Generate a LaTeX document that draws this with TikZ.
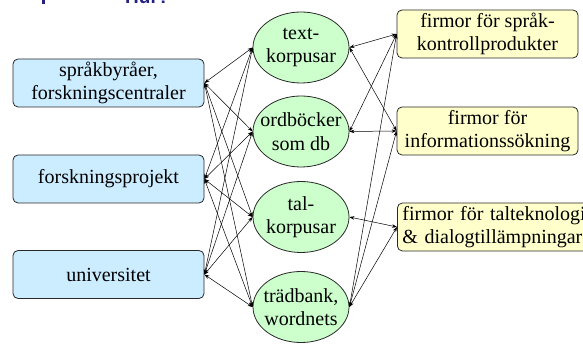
\documentclass[tikz,border=0pt]{standalone}
\usepackage{fontspec}
\setmainfont{LiberationSerif}[Extension=.ttf, UprightFont=*-Regular, BoldFont=*-Bold]
\newfontfamily\serifbody{LiberationSerif}[Extension=.ttf, UprightFont=*-Regular]
\newfontfamily\titlefont{Liberation Sans}
\usetikzlibrary{shapes.geometric,arrows.meta}
\definecolor{boxblue}{RGB}{204,236,255}
\definecolor{ellgreen}{RGB}{204,255,204}
\definecolor{boxyellow}{RGB}{255,255,204}
\definecolor{titleblue}{RGB}{36,36,128}
\definecolor{edgegray}{RGB}{40,40,40}
\begin{document}
\begin{tikzpicture}[x=1pt,y=-1pt,
  txt/.style={font=\serifbody\fontsize{20}{23.5}\selectfont, align=center},
  lbox/.style={txt, draw=edgegray, line width=0.8pt, rounded corners=5pt, fill=boxblue, minimum width=191pt, minimum height=48pt, inner sep=0pt},
  rbox/.style={txt, draw=edgegray, line width=0.8pt, rounded corners=5pt, fill=boxyellow, minimum width=181pt, minimum height=48pt, inner sep=0pt},
  ell/.style={draw=edgegray, line width=0.8pt, ellipse, fill=ellgreen, minimum width=96pt, minimum height=71pt, inner sep=0pt},
  link/.style={line width=0.5pt, {Stealth[length=5pt,width=3.5pt]}-{Stealth[length=5pt,width=3.5pt]}}
]
\useasboundingbox (0,0) rectangle (583,344);
\clip (0,0) rectangle (583,344);

% title fragments
\node[font=\titlefont\bfseries\fontsize{19}{19}\selectfont, text=titleblue, anchor=base west, inner sep=0pt] (title) at (125,4) {Hur?};
\fill[titleblue] (42,0) rectangle (45,4);

% left boxes
\node[lbox] (l1) at (108.5,83) {språkbyråer,\\forskningscentraler};
\node[lbox] (l2) at (108.5,179) {forskningsprojekt};
\node[lbox] (l3) at (108.5,274.5) {universitet};

% ellipses
\node[ell] (e1) at (301,47.5) {};
\node[ell] (e2) at (301,131.5) {};
\node[ell] (e3) at (301,217) {};
\node[ell] (e4) at (301,307) {};
\node[txt, inner sep=0pt] (t1) at (e1) {text-\\korpusar};
\node[txt, inner sep=0pt] (t2) at (e2) {ordböcker\\som db};
\node[txt, inner sep=0pt] (t3) at (e3) {tal-\\korpusar};
\node[txt, inner sep=0pt] (t4) at (e4) {trädbank,\\wordnets};

% right boxes
\node[rbox] (ra) at (487.5,34) {firmor för språk-\\kontrollprodukter};
\node[rbox] (rb) at (487.5,131) {firmor för\\informationssökning};
\node[rbox, anchor=west, text width=200pt, align=left, inner xsep=5pt] (rc) at (397,227) {firmor för talteknologi\\\& dialogtillämpningar};

% left connectors
\foreach \l in {l1,l2,l3}{
  \foreach \e in {e1,e2,e3,e4}{
    \draw[link] (\l.east) -- (\e.west);
  }
}
% right connectors
\draw[link] (e1.east) -- (ra.west);
\draw[link] (e1.east) -- (rb.west);
\draw[link] (e2.east) -- (ra.west);
\draw[link] (e2.east) -- (rb.west);
\draw[link] (e3.east) -- (rc.west);
\draw[link] (e4.east) -- (ra.west);
\draw[link] (e4.east) -- (rb.west);
\draw[link] (e4.east) -- (rc.west);
\end{tikzpicture}
\end{document}
